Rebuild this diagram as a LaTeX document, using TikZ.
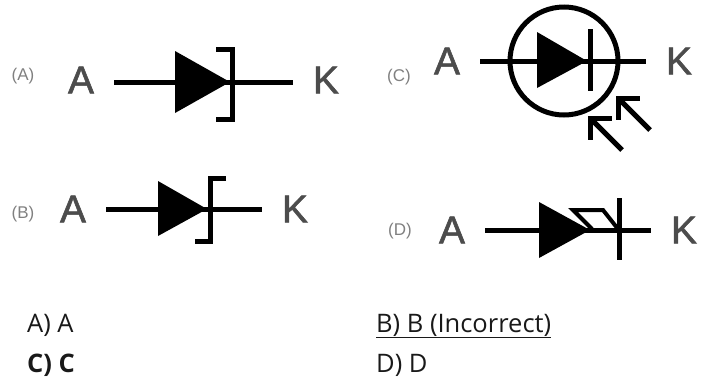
\documentclass[tikz,border=0pt]{standalone}
\usepackage{fontspec}
\setmainfont{Open Sans}
\newfontfamily\symfont[FakeBold=1.5]{Liberation Sans}
\newfontfamily\tagfont{Liberation Sans}
\usetikzlibrary{arrows.meta}

\begin{document}
\begin{tikzpicture}
	[x=1pt,y=-1pt,>={Straight Barb[length=15pt,width=30pt]},
		lead/.style={line width=5pt,black},
		bar node/.style={line width=5pt,black},
		pin node/.style={inner sep=0pt,outer sep=20pt,text=black!70,font=\symfont\fontsize{39}{39}\selectfont},
		tag node/.style={inner sep=0pt,text=black!50,font=\tagfont\fontsize{17}{17}\selectfont},
		answer node/.style={inner sep=0pt,anchor=base west,text=black!90,font=\fontsize{25.5}{30}\selectfont}]
	\useasboundingbox (0,0) rectangle (720,381);

	% (A)
	\node[tag node] (tagA) at (23,76) {(A)};
	\node[pin node] (anodeA) at (81,80) {A};
	\node[pin node] (cathA) at (326,80) {K};
	\draw[lead] ([yshift=-2.7pt]anodeA.east) -- ([yshift=-2.7pt]cathA.west);
	\fill (175,51) -- (230,82) -- (175,113) -- cycle;
	\draw[bar node] (216,49) -- (232.5,49) -- (232.5,119) -- (216,119);

	% (B)
	\node[tag node] (tagB) at (23,214) {(B)};
	\node[pin node] (anodeB) at (73,209) {A};
	\node[pin node] (cathB) at (295,209) {K};
	\draw[lead] (anodeB) -- (cathB);
	\fill (158,181) -- (207,209) -- (158,236) -- cycle;
	\draw[bar node] (226,178) -- (210,178) -- (210,241) -- (195,241);

	% (C)
	\node[tag node] (tagC) at (399,77) {(C)};
	\node[pin node] (anodeC) at (447,61) {A};
	\node[pin node] (cathC) at (679,61) {K};
	\node[circle,draw,line width=5pt,minimum size=108pt,inner sep=0pt] (ringC) at (564,61) {};
	\draw[lead] (anodeC) -- (cathC);
	\fill (537,32) -- (587,61) -- (537,88) -- cycle;
	\draw[bar node] (590,29) -- (590,91);
	\coordinate (rayA) at (650,130);
	\coordinate (tipA) at (616,96);
	\coordinate (rayB) at (622,150);
	\coordinate (tipB) at (588,116);
	\draw[lead,->] (rayA) -- (tipA);
	\draw[lead,->] (rayB) -- (tipB);

	% (D)
	\node[tag node] (tagD) at (400,231) {(D)};
	\node[pin node] (anodeD) at (452,230) {A};
	\node[pin node] (cathD) at (684,230) {K};
	\draw[lead] (anodeD) -- (cathD);
	\fill (539,202) -- (590,230) -- (539,258) -- cycle;
	\draw[bar node] (619,198) -- (619,260);
	\draw[line width=4pt] (592,229) -- (573,210) -- (603,210) -- (618,229);

	\node[answer node] (ansA) at (27,332) {A) A};
	\node[answer node] (ansB) at (376,332) {\underline{B) B (Incorrect)}};
	\node[answer node] (ansC) at (27,372) {\textbf{C) C}};
	\node[answer node] (ansD) at (376,372) {D) D};
\end{tikzpicture}
\end{document}
